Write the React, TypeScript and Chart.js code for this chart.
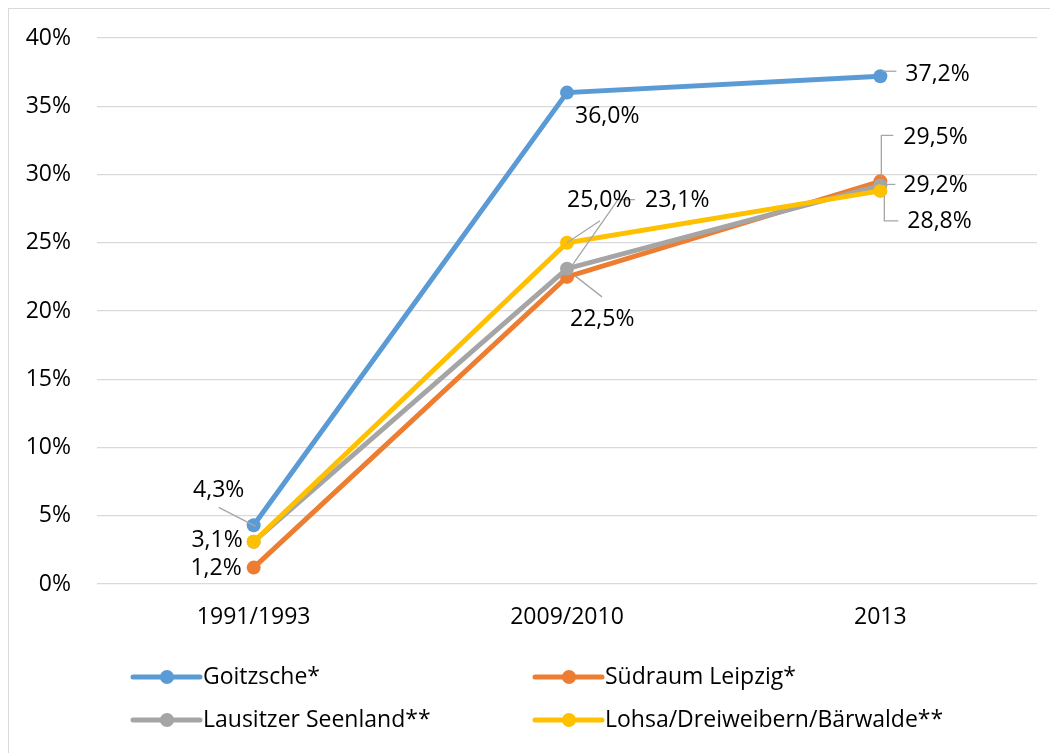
import React, { useEffect, useRef } from "react";
import { Chart, registerables } from "chart.js";

Chart.register(...registerables);

const categories = ["1991/1993", "2009/2010", "2013"];
const seriesNames = ["Goitzsche*", "Südraum Leipzig*", "Lausitzer Seenland**", "Lohsa/Dreiweibern/Bärwalde**"];
const goitzsche = [4.3, 36.0, 37.2];
const suedraum = [1.2, 22.5, 29.5];
const lausitz = [3.1, 23.1, 29.2];
const lohsa = [3.1, 25.0, 28.8];
const colors = ["#5B9BD5", "#ED7D31", "#A5A5A5", "#FFC000"];
const yTicks = [0, 5, 10, 15, 20, 25, 30, 35, 40];

const FONT = "'Open Sans', sans-serif";
const FS = 23;

// label placement relative to point
type LabelSpec = { ds: number; i: number; dx: number; dy: number; align: CanvasTextAlign; leader?: number[][] };
const labelSpecs: LabelSpec[] = [
  { ds: 0, i: 0, dx: -35, dy: -35, align: "center", leader: [[2, 1], [-35, -18]] },
  { ds: 0, i: 1, dx: 8, dy: 24, align: "left" },
  { ds: 0, i: 2, dx: 25, dy: -2, align: "left", leader: [[2, -5], [16, -5]] },
  { ds: 1, i: 0, dx: -12, dy: 1, align: "right" },
  { ds: 1, i: 1, dx: 3, dy: 43, align: "left", leader: [[8, -1], [35, 20]] },
  { ds: 1, i: 2, dx: 23, dy: -44, align: "left", leader: [[1, -4], [1, -46], [13, -46]] },
  { ds: 2, i: 1, dx: 78, dy: -68, align: "left", leader: [[5, -3], [51, -69], [68, -69]] },
  { ds: 2, i: 2, dx: 23, dy: 0, align: "left", leader: [[0, -1], [15, -1]] },
  { ds: 3, i: 0, dx: -11, dy: -1, align: "right" },
  { ds: 3, i: 1, dx: 0, dy: -42, align: "left", leader: [[0, 0], [33, -22]] },
  { ds: 3, i: 2, dx: 27, dy: 31, align: "left", leader: [[4, 5], [4, 30], [18, 30]] },
];

const fmt = (v: number) => v.toFixed(1).replace(".", ",") + "%";

const labelPlugin = {
  id: "dataLabels",
  afterDatasetsDraw(chart: any) {
    const ctx = chart.ctx;
    ctx.save();
    for (const s of labelSpecs) {
      const meta = chart.getDatasetMeta(s.ds);
      const el = meta.data[s.i];
      const v = chart.data.datasets[s.ds].data[s.i];
      const x = el.x, y = el.y;
      if (s.leader) {
        ctx.strokeStyle = "#A6A6A6";
        ctx.lineWidth = 1.3;
        ctx.beginPath();
        s.leader.forEach((p, k) => (k === 0 ? ctx.moveTo(x + p[0], y + p[1]) : ctx.lineTo(x + p[0], y + p[1])));
        ctx.stroke();
      }
      ctx.fillStyle = "#000";
      ctx.font = `${FS}px ${FONT}`;
      ctx.textAlign = s.align;
      ctx.textBaseline = "middle";
      ctx.fillText(fmt(v), x + s.dx, y + s.dy);
    }
    ctx.restore();
  },
};

const legendPlugin = {
  id: "customLegend",
  afterDraw(chart: any) {
    const ctx = chart.ctx;
    const cols = [124, 526];
    const rows = [668, 711];
    ctx.save();
    chart.data.datasets.forEach((ds: any, k: number) => {
      const cx = cols[k % 2];
      const cy = rows[Math.floor(k / 2)];
      ctx.strokeStyle = ds.borderColor;
      ctx.lineWidth = 5;
      ctx.lineCap = "round";
      ctx.beginPath();
      ctx.moveTo(cx, cy);
      ctx.lineTo(cx + 67, cy);
      ctx.stroke();
      ctx.fillStyle = ds.borderColor;
      ctx.beginPath();
      ctx.arc(cx + 34, cy, 7, 0, Math.PI * 2);
      ctx.fill();
      ctx.fillStyle = "#000";
      ctx.font = `${FS}px ${FONT}`;
      ctx.textAlign = "left";
      ctx.textBaseline = "middle";
      ctx.fillText(ds.label, cx + 70, cy);
    });
    ctx.restore();
  },
};

export default function App() {
  const ref = useRef<HTMLCanvasElement | null>(null);
  useEffect(() => {
    let chart: Chart | null = null;
    let cancelled = false;
    const make = () => {
      if (cancelled || !ref.current) return;
      const all = [goitzsche, suedraum, lausitz, lohsa];
      chart = new Chart(ref.current, {
        type: "line",
        data: {
          labels: categories,
          datasets: all.map((d, k) => ({
            label: seriesNames[k],
            data: d,
            borderColor: colors[k],
            backgroundColor: colors[k],
            pointBackgroundColor: colors[k],
            pointBorderColor: colors[k],
            pointBorderWidth: 0,
            pointRadius: 7,
            borderWidth: 5,
            tension: 0,
            order: 3 - k,
          })),
        },
        options: {
          animation: false,
          responsive: false,
          events: [],
          layout: { padding: { left: 0, top: 29, right: 21, bottom: 0 } },
          plugins: { legend: { display: false }, tooltip: { enabled: false } },
          scales: {
            x: {
              offset: true,
              grid: { display: false, drawTicks: false },
              border: { display: false },
              ticks: { color: "#000", font: { family: FONT, size: FS }, padding: 20, maxRotation: 0 },
              afterFit: (s: any) => { s.height = 169; s.paddingLeft = 0; s.paddingRight = 0; },
            },
            y: {
              min: 0,
              max: 40,
              afterBuildTicks: (s: any) => { s.ticks = yTicks.map((v) => ({ value: v })); },
              grid: { color: "#D9D9D9", lineWidth: 1.2, drawTicks: false },
              border: { display: false },
              ticks: { color: "#000", font: { family: FONT, size: FS }, padding: 26, callback: (v: any) => `${v}%` },
              afterFit: (s: any) => { s.width = 88; s.paddingTop = 0; s.paddingBottom = 0; },
            },
          },
        },
        plugins: [labelPlugin, legendPlugin],
      });
    };
    const p = (document as any).fonts ? (document as any).fonts.load(`${FS}px 'Open Sans'`) : Promise.resolve();
    p.then(make, make);
    return () => {
      cancelled = true;
      if (chart) chart.destroy();
    };
  }, []);
  return (
    <div
      style={{
        width: 1050,
        height: 745,
        boxSizing: "border-box",
        borderLeft: "1px solid #D9D9D9",
        borderTop: "1px solid #D9D9D9",
        overflow: "hidden",
        background: "#fff",
      }}
    >
      <canvas ref={ref} width={1049} height={744} style={{ display: "block" }} />
    </div>
  );
}
